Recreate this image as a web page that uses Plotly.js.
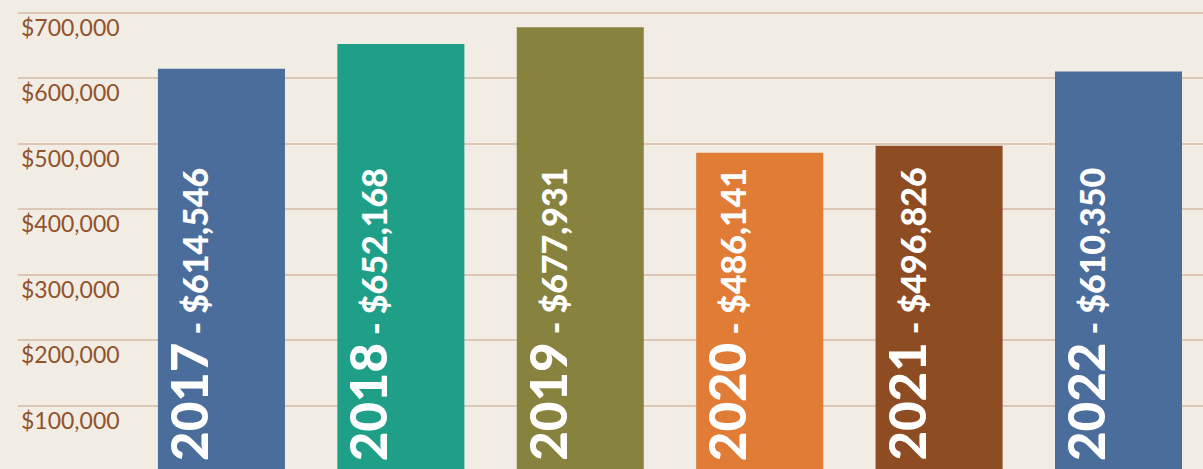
<!DOCTYPE html>
<html>
<head>
<meta charset="utf-8">
<script src="https://cdn.plot.ly/plotly-3.0.1.min.js"></script>
<style>
  html, body { margin: 0; padding: 0; background: #f1ece4; }
  #chart { width: 1203px; height: 469px; }
</style>
</head>
<body>
<div id="chart"></div>
<script>
const years = ["2017", "2018", "2019", "2020", "2021", "2022"];
const values = [614546, 652168, 677931, 486141, 496826, 610350];
const barColors = ["#4b6d9c", "#1f9f88", "#87833f", "#e07c36", "#8e4c23", "#4b6d9c"];
const tickVals = [100000, 200000, 300000, 400000, 500000, 600000, 700000];
const tickText = ["$100,000", "$200,000", "$300,000", "$400,000", "$500,000", "$600,000", "$700,000"];

const fmt = v => "$" + String(v).replace(/\B(?=(\d{3})+(?!\d))/g, ",");

const trace = {
  type: "bar",
  x: years,
  y: values,
  width: 0.708,
  marker: { color: barColors, line: { width: 0 } },
  hoverinfo: "skip",
  showlegend: false
};

const annotations = years.map((yr, i) => ({
  x: i,
  xref: "x",
  y: 0,
  yref: "paper",
  xanchor: "center",
  yanchor: "bottom",
  yshift: 6,
  xshift: -33,
  textangle: -90,
  showarrow: false,
  text: "<span style=\"font-size:51px\">" + yr + "</span> - " + fmt(values[i]),
  font: { family: "Lato", size: 34, color: "#ffffff", weight: 900 }
}));

const layout = {
  width: 1203,
  height: 469,
  margin: { l: 18, r: 0, t: 0, b: 0 },
  paper_bgcolor: "#f1ece4",
  plot_bgcolor: "rgba(0,0,0,0)",
  xaxis: {
    type: "category",
    range: [-1.134, 5.471],
    showticklabels: false,
    showgrid: false,
    zeroline: false,
    showline: false,
    fixedrange: true
  },
  yaxis: {
    range: [3400, 719400],
    tickvals: tickVals,
    ticktext: tickText,
    ticklabelposition: "inside",
    ticklabelshift: 15,
    ticklabelstandoff: 0,
    tickfont: { family: "Lato, sans-serif", size: 23, color: "#93522a", weight: 400 },
    showgrid: true,
    gridcolor: "#dcc6b6",
    gridwidth: 2,
    zeroline: false,
    showline: false,
    ticks: "",
    fixedrange: true
  },
  annotations: annotations
};

Plotly.newPlot("chart", [trace], layout, { displayModeBar: false });
</script>
</body>
</html>
